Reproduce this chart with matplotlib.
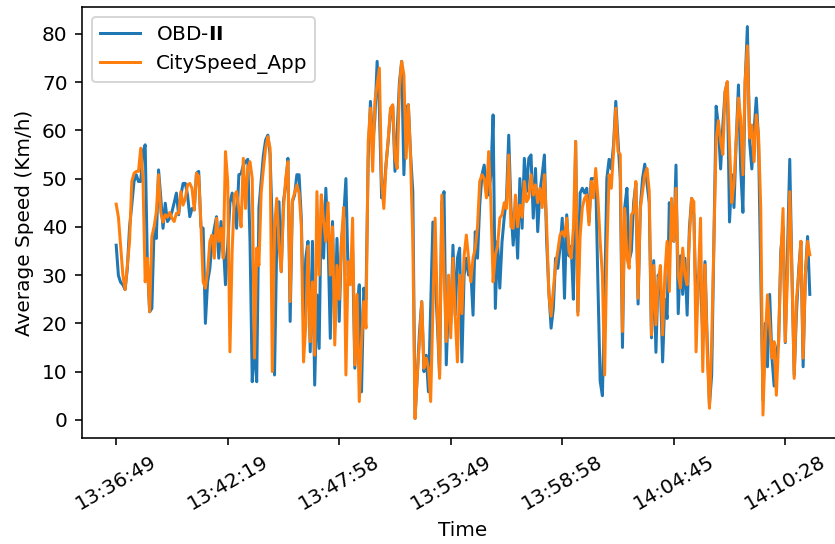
import matplotlib
matplotlib.use("Agg")
import matplotlib.pyplot as plt
import numpy as np

# ---- data ----
obd_speed = [
    36.2, 29.9, 28.5, 28, 27, 31.4, 40, 44.5, 49.4, 50.8,
    49.4, 49.4, 55.6, 57, 32, 22.4, 23.1, 39.7, 37.6, 51.8,
    46, 39.7, 44.9, 41.1, 41.8, 43.1, 45, 47, 42.5, 46.6,
    49, 49, 46.6, 42.1, 43.8, 43.5, 51.1, 51.5, 40, 39.7,
    20, 28.6, 31.4, 37, 39.7, 42.1, 33.5, 41.1, 37, 28,
    36, 45, 47, 44, 39.7, 50.8, 51, 52.8, 53.5, 54,
    37, 7.9, 16.2, 7.9, 44, 49.4, 54.9, 58, 59, 55,
    40, 9.3, 37, 45.2, 30.7, 45.2, 48.7, 54.2, 20.4, 45.2,
    46.6, 50.8, 50.8, 41.8, 21, 33.5, 37, 14.1, 37, 7.2,
    25.9, 14.8, 46.6, 33.5, 48, 37, 16.9, 41.1, 19, 37.6,
    20.4, 37, 42, 50, 30, 32, 35, 10.7, 23, 28,
    5.8, 27.3, 25, 54.2, 66, 57, 62.5, 74.3, 64.6, 46,
    47, 53, 58, 64, 65, 51.5, 60, 70, 74.3, 50.8,
    64.6, 65.3, 55, 47.3, 0.3, 9.3, 18.3, 24.5, 10, 13.4,
    5.8, 23.1, 41, 30, 20, 9.3, 45, 47.3, 11.4, 25,
    20, 36.2, 21.7, 33.5, 35.6, 12, 30, 33.5, 30, 31,
    21.7, 39, 33.5, 44.5, 50.8, 52.8, 48.7, 46.6, 50.8, 63.2,
    23.1, 37, 27.3, 36.9, 42, 45.9, 59, 44, 36.2, 43.8,
    33.5, 50, 39.7, 54.2, 47.3, 54.2, 54.9, 41.8, 52.1, 39,
    47.3, 50.8, 54.9, 37, 26.6, 19, 23.1, 33.5, 31.4, 35.6,
    41.8, 25.2, 42.5, 34, 36, 25, 57.7, 22.4, 47, 48,
    47, 48, 41, 50, 50, 50, 28, 8, 5, 25,
    50, 54, 52, 57, 66, 58, 50, 15, 44, 48,
    33, 35, 45, 49, 24, 44, 50, 53, 49, 45,
    17, 33, 14, 30, 28, 12, 25, 21, 45, 39,
    37, 52.8, 22, 34, 26, 33.5, 21.7, 39.7, 45.9, 42.5,
    23.1, 30, 28, 17.6, 32.8, 16.2, 3.1, 9.3, 37, 65,
    61, 52, 61, 68, 70, 41, 50.8, 44, 58, 69.4,
    52, 43, 70, 81.5, 57.7, 52, 60, 66.7, 58, 30,
    4, 20, 11, 26, 13, 7, 14, 16, 35, 40,
    16, 35, 54, 30, 9.3, 22, 31, 37, 11, 30,
    38, 26,
]

app_speed = [
    44.7, 42, 36, 30, 27, 32, 37, 49.4, 51.1, 51.5,
    51.5, 56.3, 50, 28.6, 33.5, 22.4, 38, 40, 43.1, 50.8,
    43, 41, 42.5, 42, 43, 41.8, 41.1, 42.8, 42.8, 47.3,
    44.5, 45.9, 48.7, 49, 48, 43.5, 51.1, 50.5, 40.4, 28.6,
    27.3, 30.7, 37, 38.3, 33.5, 41.8, 37, 39.7, 33.5, 55.6,
    49.4, 14.1, 35, 46.6, 47.3, 43.8, 40, 54.2, 43.8, 52.1,
    53.5, 50, 12.8, 35.6, 32, 47, 52, 56.3, 58.7, 56.3,
    10, 40, 45.9, 36, 30.7, 43.8, 50, 53.5, 24.5, 45.5,
    47, 48.7, 47, 40.4, 12, 19.7, 36, 16.2, 28.6, 13.4,
    47.3, 30, 46.6, 41.1, 37, 45, 30, 40, 15.5, 32,
    25, 37, 44, 9.3, 32.8, 28, 41.8, 11.4, 26, 3.8,
    16.2, 24.5, 19, 57.7, 64.6, 51.5, 66, 69.4, 72.9, 49.4,
    43.8, 52.8, 58.4, 64.6, 65.3, 54.2, 52.1, 68.7, 74.3, 71.5,
    54.2, 65.3, 54.2, 37, 0.3, 9.3, 16.2, 24.5, 10.7, 12.8,
    10.7, 3.8, 23.1, 41.8, 23.1, 8.6, 46.6, 30, 16.2, 30,
    17, 33.5, 21.7, 12, 30, 22, 34, 38.3, 33.5, 28.6,
    33.5, 35.6, 40, 49.4, 50.8, 50, 46, 55.6, 45, 28.6,
    34.2, 36, 41.8, 42.5, 45, 43.8, 54.9, 40, 39.7, 46.6,
    40, 44.5, 42, 49.4, 45.2, 46, 50.8, 46.6, 48.7, 45,
    48, 44, 50.8, 40.4, 26, 21.5, 27, 32, 35, 38.3,
    39, 38, 41.8, 35, 33.5, 39.7, 57.7, 21.7, 38, 44,
    45.9, 46.6, 40.4, 49.4, 46, 52.1, 45.9, 37, 30, 9.3,
    35, 50.8, 48, 55.6, 64.6, 55.6, 55, 18.3, 43.8, 33.5,
    31.4, 42.5, 43.1, 49.4, 25.2, 43.8, 47.3, 50.8, 52.1, 47.3,
    17.6, 32, 19.7, 28.6, 32, 17.6, 30, 37, 26.6, 45.9,
    37, 48, 30, 27.3, 35.6, 30, 28, 38, 45.9, 45.2,
    14.1, 29, 41.8, 10, 32.1, 14.1, 2.4, 16.2, 37, 58,
    62, 57.7, 55, 68, 70.1, 57, 45, 49, 58, 66.7,
    62.5, 50.8, 70.1, 77.5, 58.4, 61.1, 53.5, 63.2, 59, 43.8,
    1, 16.2, 25.9, 19.7, 12.8, 16.2, 5.1, 16.2, 33.5, 43.8,
    16.2, 30, 47.3, 30, 8.6, 25, 30, 37, 12.8, 30,
    37, 34.2,
]

tick_step = 50
time_labels = ["13:36:49", "13:42:19", "13:47:58", "13:53:49",
               "13:58:58", "14:04:45", "14:10:28"]

series_names = ["OBD-$\\mathbf{II}$", "CitySpeed_App"]

# ---- figure ----
plt.rcParams["font.family"] = ["DejaVu Sans"]
plt.rcParams["font.size"] = 10

dpi = 144
fig = plt.figure(figsize=(835 / dpi, 544 / dpi), dpi=dpi)
ax = fig.add_axes([81.5 / 835, 1 - 438 / 544, (844.5 - 81.5) / 835, (438 - 7) / 544])

x_obd = np.arange(len(obd_speed))
x_app = np.arange(len(app_speed))
ax.plot(x_obd, obd_speed, color="#1f77b4", linewidth=1.5, label=series_names[0])
ax.plot(x_app, app_speed, color="#ff7f0e", linewidth=1.5, label=series_names[1])

tick_pos = np.arange(len(time_labels)) * tick_step
ax.set_xticks(tick_pos)
ax.set_xticklabels(time_labels, rotation=30)
ax.set_xlabel("Time")
ax.set_ylabel("Average Speed (Km/h)")
ax.legend(loc="upper left")

fig.savefig("out.png", dpi=dpi)
